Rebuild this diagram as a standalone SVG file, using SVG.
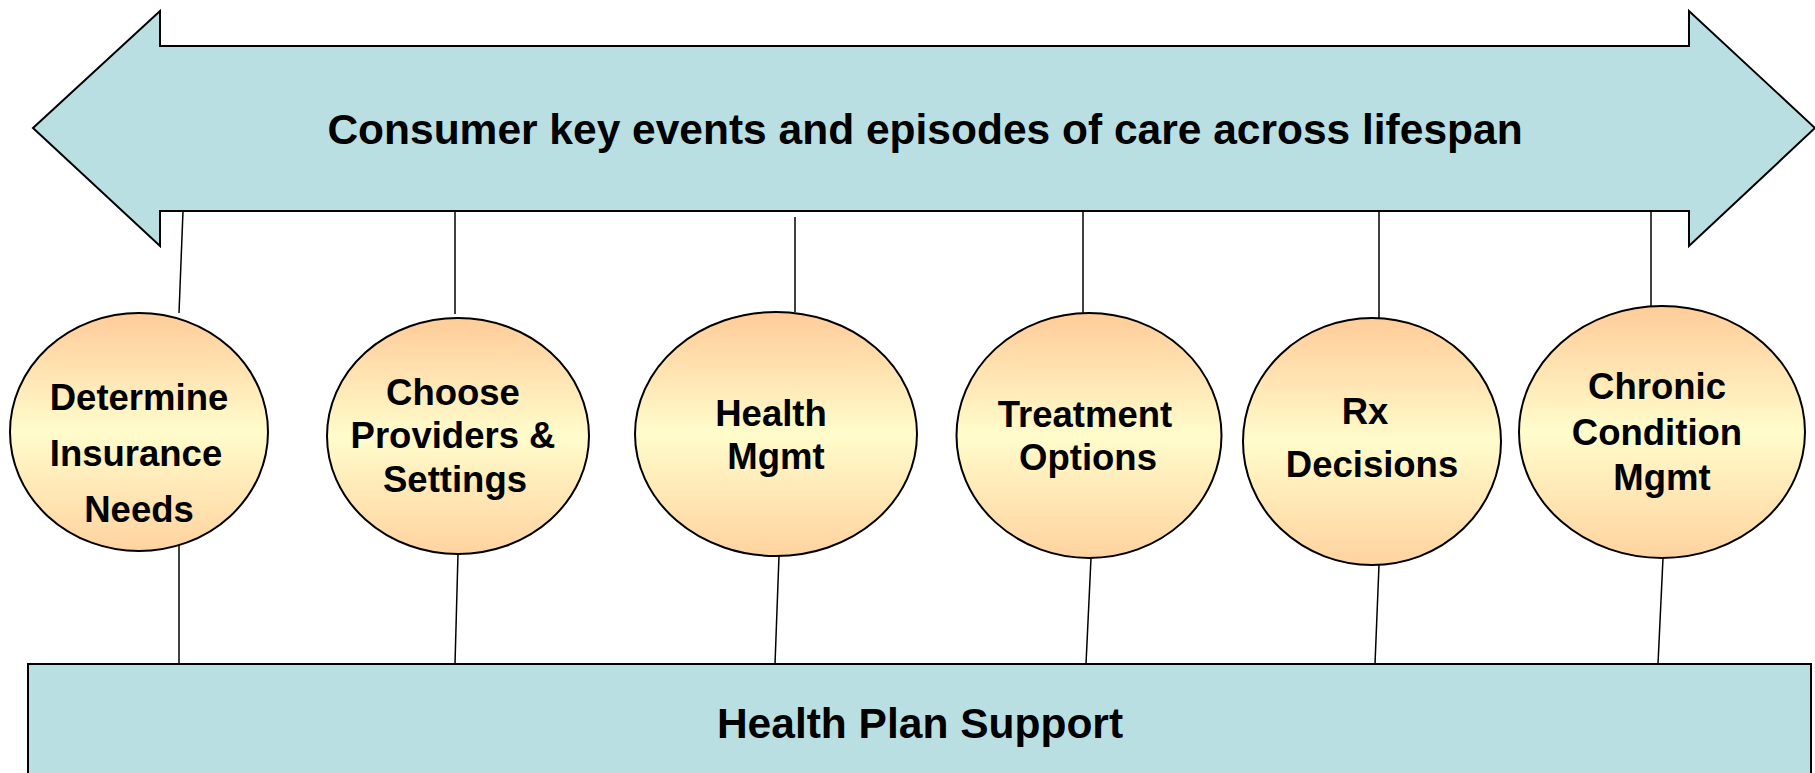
<svg xmlns="http://www.w3.org/2000/svg" width="1815" height="773" viewBox="0 0 1815 773">
  <style>
    .band { fill: #B9DFE3; stroke: #000; stroke-width: 2; }
    .node { fill: url(#peach); stroke: #000; stroke-width: 2; }
    .link { stroke: #000; stroke-width: 1.5; fill: none; }
    .big { font-family: "Liberation Sans", Arial, sans-serif; font-weight: bold; font-size: 42.5px; fill: #000; text-anchor: middle; }
    .lbl { font-family: "Liberation Sans", Arial, sans-serif; font-weight: bold; font-size: 36.5px; fill: #000; text-anchor: middle; }
  </style>
  <defs>
    <linearGradient id="peach" x1="0" y1="0" x2="0" y2="1">
      <stop offset="0" stop-color="#FFCC99"/>
      <stop offset="0.5" stop-color="#FFFCCB"/>
      <stop offset="1" stop-color="#FFD39F"/>
    </linearGradient>
  </defs>
  <rect width="1815" height="773" fill="#fff"/>

  <!-- double-headed timeline arrow -->
  <g id="lifespan">
    <path class="band" d="M33,128 L160,11 L160,46 L1689,46 L1689,11 L1815,128 L1689,246 L1689,211 L160,211 L160,246 Z"/>
    <text class="big" x="925" y="144">Consumer key events and episodes of care across lifespan</text>
  </g>

  <!-- support bar -->
  <g id="support">
    <rect class="band" x="28" y="664" width="1783" height="130"/>
    <text class="big" x="920" y="738">Health Plan Support</text>
  </g>

  <!-- connectors between arrow, events and support bar -->
  <g id="connectors">
    <line class="link" x1="183" y1="211" x2="179" y2="313"/>
    <line class="link" x1="179" y1="541" x2="179" y2="664"/>
    <line class="link" x1="455" y1="211" x2="455" y2="314"/>
    <line class="link" x1="458" y1="554" x2="455" y2="664"/>
    <line class="link" x1="795" y1="217" x2="795" y2="312"/>
    <line class="link" x1="779" y1="556" x2="775" y2="664"/>
    <line class="link" x1="1083" y1="211" x2="1083" y2="313"/>
    <line class="link" x1="1091" y1="558" x2="1086" y2="664"/>
    <line class="link" x1="1379" y1="211" x2="1379" y2="318"/>
    <line class="link" x1="1379" y1="565" x2="1375" y2="664"/>
    <line class="link" x1="1651" y1="211" x2="1651" y2="306"/>
    <line class="link" x1="1663" y1="558" x2="1658" y2="664"/>
  </g>

  <g id="insurance">
    <ellipse class="node" cx="139" cy="432" rx="129" ry="119"/>
    <text class="lbl" x="139" y="410">Determine</text>
    <text class="lbl" x="136" y="466">Insurance</text>
    <text class="lbl" x="139" y="522">Needs</text>
  </g>

  <g id="providers">
    <ellipse class="node" cx="458" cy="436" rx="131" ry="118"/>
    <text class="lbl" x="453" y="405">Choose</text>
    <text class="lbl" x="453" y="448">Providers &amp;</text>
    <text class="lbl" x="455" y="492">Settings</text>
  </g>

  <g id="health-mgmt">
    <ellipse class="node" cx="776" cy="434" rx="141" ry="122"/>
    <text class="lbl" x="771" y="426">Health</text>
    <text class="lbl" x="776" y="469">Mgmt</text>
  </g>

  <g id="treatment">
    <ellipse class="node" cx="1089" cy="435.5" rx="132.5" ry="122.5"/>
    <text class="lbl" x="1085" y="427">Treatment</text>
    <text class="lbl" x="1088" y="470">Options</text>
  </g>

  <g id="rx">
    <ellipse class="node" cx="1372" cy="441.5" rx="129" ry="123.5"/>
    <text class="lbl" x="1365" y="424">Rx</text>
    <text class="lbl" x="1372" y="477">Decisions</text>
  </g>

  <g id="chronic">
    <ellipse class="node" cx="1662" cy="432" rx="143" ry="126"/>
    <text class="lbl" x="1657" y="399">Chronic</text>
    <text class="lbl" x="1657" y="445">Condition</text>
    <text class="lbl" x="1662" y="490">Mgmt</text>
  </g>
</svg>
